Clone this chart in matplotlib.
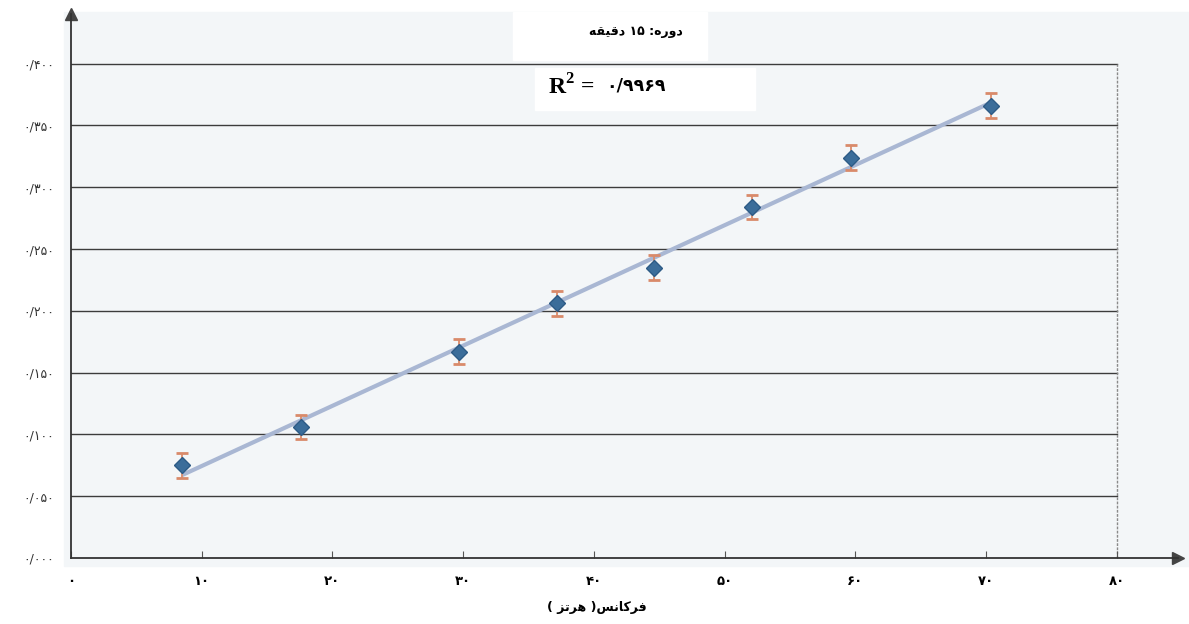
import matplotlib.pyplot as plt
import numpy as np

freq = [8.5, 17.6, 29.7, 37.2, 44.6, 52.1, 59.7, 70.4]
value = [0.075, 0.106, 0.167, 0.206, 0.235, 0.284, 0.324, 0.366]
err = [0.010, 0.010, 0.010, 0.010, 0.010, 0.010, 0.010, 0.010]
r2 = 0.9969

x_ticks = [0, 10, 20, 30, 40, 50, 60, 70, 80]
y_ticks = [0.0, 0.05, 0.10, 0.15, 0.20, 0.25, 0.30, 0.35, 0.40]

# persian digits, decimal sign as '/'
FA_DIGITS = str.maketrans('0123456789.', '۰۱۲۳۴۵۶۷۸۹/')

# matplotlib does no arabic shaping or bidi, so use the presentation forms by hand
# (isolated, final, initial, medial)
FORMS = {
    'ا': ('\uFE8D', '\uFE8E', None, None),
    'د': ('\uFEA9', '\uFEAA', None, None),
    'ر': ('\uFEAD', '\uFEAE', None, None),
    'ز': ('\uFEAF', '\uFEB0', None, None),
    'و': ('\uFEED', '\uFEEE', None, None),
    'ت': ('\uFE95', '\uFE96', '\uFE97', '\uFE98'),
    'س': ('\uFEB1', '\uFEB2', '\uFEB3', '\uFEB4'),
    'ف': ('\uFED1', '\uFED2', '\uFED3', '\uFED4'),
    'ق': ('\uFED5', '\uFED6', '\uFED7', '\uFED8'),
    'ک': ('\uFB8E', '\uFB8F', '\uFB90', '\uFB91'),
    'ن': ('\uFEE5', '\uFEE6', '\uFEE7', '\uFEE8'),
    'ه': ('\uFEE9', '\uFEEA', '\uFEEB', '\uFEEC'),
    'ی': ('\uFBFC', '\uFBFD', '\uFBFE', '\uFBFF'),
}


def shape(word):
    out = []
    for i, ch in enumerate(word):
        f = FORMS[ch]
        joins_prev = i > 0 and FORMS[word[i - 1]][2] is not None
        joins_next = i < len(word) - 1 and f[2] is not None
        if joins_prev and joins_next:
            out.append(f[3])
        elif joins_prev:
            out.append(f[1])
        elif joins_next:
            out.append(f[2])
        else:
            out.append(f[0])
    return ''.join(reversed(out))


# visual (left to right) order of the right-to-left texts
title_txt = shape('دقیقه') + ' ' + '15'.translate(FA_DIGITS) + ' :' + shape('دوره')
xlabel_txt = '( ' + shape('هرتز') + ' )' + shape('فرکانس')

plt.rcParams['font.family'] = ['DejaVu Sans']
plt.rcParams['mathtext.fontset'] = 'custom'
plt.rcParams['mathtext.bf'] = 'Liberation Serif:bold'
plt.rcParams['mathtext.rm'] = 'Liberation Serif'

W, H = 1189, 624
fig = plt.figure(figsize=(W / 100, H / 100), dpi=100)
fig.patch.set_facecolor('white')

# light sheet background behind the plot
fig.patches.append(plt.Rectangle((64 / W, 1 - 566 / H), (W - 64) / W, 554 / H,
                                 transform=fig.transFigure, color='#f3f6f8', zorder=0))

# axes box in pixels: x axis at y=558, y axis at x=71, arrows at the ends
left, right, top, bottom = 71, 1178, 14, 558
ax = fig.add_axes([left / W, (H - bottom) / H, (right - left) / W, (bottom - top) / H])
ax.set_zorder(2)
ax.set_facecolor('none')
ax.set_xlim(0, (right - left) / 13.07)
ax.set_ylim(0, (bottom - top) / 1236)

# gridlines only inside the 0..80 / 0..0.4 box
for yv in y_ticks[1:]:
    ax.plot([0, 80], [yv, yv], color='#3c3c3c', lw=1.0, zorder=1)
ax.plot([80, 80], [0, 0.40], color='#8a8a8a', lw=1.0, ls=(0, (2, 1)), zorder=1)

# trend line
coef = np.polyfit(freq, value, 1)
xs = np.array([min(freq), max(freq)])
ax.plot(xs, np.polyval(coef, xs), color='#a9b7d3', lw=3.0, zorder=2,
        solid_capstyle='butt')

ax.errorbar(freq, value, yerr=err, fmt='none', ecolor='#d98a6a', elinewidth=1.3,
            capsize=4, capthick=2, zorder=3)
ax.plot(freq, value, 'D', color='#3b6d9a', markeredgecolor='#2d5b86', ms=8.5, zorder=4)

for side in ['top', 'right']:
    ax.spines[side].set_visible(False)
for side in ['left', 'bottom']:
    ax.spines[side].set_color('#333333')
    ax.spines[side].set_linewidth(1.3)

# arrow heads at the axis ends
ax.plot(0, 1, '^', color='#444444', ms=9, transform=ax.transAxes, clip_on=False)
ax.plot(1, 0, '>', color='#444444', ms=9, transform=ax.transAxes, clip_on=False)

ax.set_xticks(x_ticks)
ax.set_xticklabels([str(v).translate(FA_DIGITS) for v in x_ticks],
                   fontsize=9.5, fontweight='bold')
ax.tick_params(axis='x', direction='in', length=5, width=0.8, color='#555555', pad=12)
ax.set_yticks(y_ticks)
ax.set_yticklabels([f'{v:.3f}'.translate(FA_DIGITS) for v in y_ticks],
                   fontsize=9, color='#333333')
ax.tick_params(axis='y', length=0, pad=12)

# title and R2 in white boxes like the original sheet
fig.patches.append(plt.Rectangle((513 / W, 1 - 60 / H), 194 / W, 48 / H,
                                 transform=fig.transFigure, color='white', zorder=5))
fig.patches.append(plt.Rectangle((535 / W, 1 - 110 / H), 220 / W, 42 / H,
                                 transform=fig.transFigure, color='white', zorder=5))
fig.text(636 / W, 1 - 32 / H, title_txt, ha='center', va='center',
         fontsize=9, fontweight='bold', zorder=6)
fig.text(548 / W, 1 - 87 / H, 'R$^\\mathbf{2}$ =', ha='left', va='center',
         fontsize=17, fontweight='bold', family='Liberation Serif', zorder=6)
fig.text(606 / W, 1 - 86 / H, f'{r2:.4f}'.translate(FA_DIGITS), ha='left', va='center',
         fontsize=12.5, fontweight='bold', zorder=6)

fig.text(597 / W, 1 - 607 / H, xlabel_txt, ha='center', va='center',
         fontsize=9, fontweight='bold')

fig.savefig('out.png', dpi=100)
